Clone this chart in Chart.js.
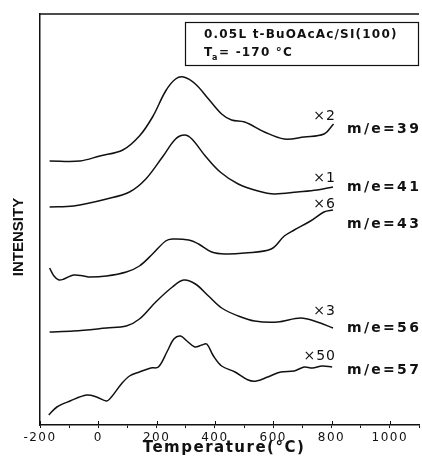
<!DOCTYPE html>
<html>
<head>
<meta charset="utf-8">
<script src="https://cdn.jsdelivr.net/npm/chart.js@4.4.1/dist/chart.umd.min.js"></script>
<style>
  html, body { margin: 0; padding: 0; background: #fff; }
  #wrap { width: 422px; height: 456px; }
</style>
</head>
<body>
<div id="wrap"><canvas id="tpdChart"></canvas></div>
<script>
// mass channels and their scale factors
const massLabels = ["m/e=39", "m/e=41", "m/e=43", "m/e=56", "m/e=57"];
const multipliers = ["×2", "×1", "×6", "×3", "×50"];

// where the labels sit, in intensity units (channel label / multiplier)
const massLabelAt = [296, 238, 201, 97, 55];
const multLabelAt = [309, 247, 221, 114, 69];

// temperature (°C) and intensity (arb. units, offset per trace)
const temp39 = [-167, -63, 5, 84, 141, 186, 231, 265, 293, 333, 378, 423, 457, 502, 570, 638, 706, 774, 807];
const int39  = [264, 264, 269, 275, 289, 308, 334, 346, 348, 341, 326, 311, 305, 303, 293, 286, 288, 291, 301];

const temp41 = [-167, -85, 28, 107, 163, 220, 265, 296, 321, 367, 418, 480, 548, 604, 683, 751, 805];
const int41  = [218, 219, 226, 233, 246, 268, 286, 290, 286, 269, 253, 241, 234, 231, 233, 235, 238];

const temp43 = [-167, -152, -135, -118, -85, -50, -29, 28, 96, 141, 186, 231, 254, 310, 344, 389, 435, 502, 593, 638, 672, 728, 774, 805];
const int43  = [157, 149, 145, 146, 150, 149, 148, 149, 153, 159, 171, 184, 186, 185, 181, 173, 171, 172, 176, 189, 195, 204, 213, 215];

const temp56 = [-167, -85, 28, 96, 141, 197, 254, 293, 333, 378, 423, 480, 536, 615, 694, 751, 805];
const int56  = [93, 94, 97, 99, 106, 123, 138, 145, 141, 129, 117, 109, 104, 103, 107, 103, 97];

const temp57 = [-170, -142, -97, -40, -6, 28, 45, 79, 107, 141, 180, 206, 237, 259, 282, 304, 331, 355, 372, 395, 423, 469, 514, 542, 581, 626, 672, 706, 734, 768, 802];
const int57  = [10, 18, 24, 30, 28, 24, 28, 41, 49, 53, 57, 58, 74, 86, 89, 84, 78, 80, 81, 69, 59, 53, 45, 44, 48, 53, 54, 58, 57, 59, 58];

const xTickLabels = [-200, 0, 200, 400, 600, 800, 1000];

const temps = [temp39, temp41, temp43, temp56, temp57];
const ints = [int39, int41, int43, int56, int57];

function toPoints(xs, ys) {
  return xs.map((t, i) => ({ x: t, y: ys[i] }));
}

const INK = "#111";

const overlayPlugin = {
  id: "overlay",
  beforeDraw(chart) {
    chart.ctx.letterSpacing = "1.5px";
  },
  afterDraw(chart) {
    const { ctx, chartArea, scales } = chart;
    const xs = scales.x;
    const ys = scales.y;

    ctx.save();
    ctx.strokeStyle = INK;
    ctx.fillStyle = INK;

    // top frame
    ctx.lineWidth = 1.5;
    ctx.beginPath();
    ctx.moveTo(chartArea.left, chartArea.top);
    ctx.lineTo(chartArea.right, chartArea.top);
    ctx.stroke();

    // inward part of the major ticks
    ctx.lineWidth = 1;
    xs.ticks.forEach(t => {
      if (!xTickLabels.includes(t.value)) return;
      const px = Math.round(xs.getPixelForValue(t.value)) + 0.5;
      ctx.beginPath();
      ctx.moveTo(px, chartArea.bottom);
      ctx.lineTo(px, chartArea.bottom - 4);
      ctx.stroke();
    });

    // channel labels
    const endX = xs.getPixelForValue(805);
    ctx.textBaseline = "middle";
    massLabels.forEach((label, i) => {
      ctx.letterSpacing = "2.3px";
      ctx.font = "bold 14px 'DejaVu Sans'";
      ctx.textAlign = "left";
      ctx.fillText(label, endX + 14, ys.getPixelForValue(massLabelAt[i]));

      ctx.letterSpacing = "1px";
      ctx.font = "14px 'DejaVu Sans'";
      ctx.textAlign = "right";
      ctx.fillText(multipliers[i], endX + 3, ys.getPixelForValue(multLabelAt[i]));
    });

    // info box
    ctx.lineWidth = 1.2;
    ctx.strokeRect(185.5, 22.5, 233, 43);
    ctx.textAlign = "left";
    ctx.letterSpacing = "1.2px";
    ctx.font = "bold 12px 'DejaVu Sans'";
    ctx.fillText("0.05L t-BuOAcAc/SI(100)", 204, 35);
    ctx.fillText("T", 204, 53);
    ctx.font = "bold 8px 'DejaVu Sans'";
    ctx.fillText("a", 212, 58);
    ctx.font = "bold 12px 'DejaVu Sans'";
    ctx.fillText("= -170 °C", 219, 53);

    // axis titles
    ctx.letterSpacing = "1.5px";
    ctx.font = "bold 15px 'DejaVu Sans'";
    ctx.textAlign = "center";
    ctx.fillText("Temperature(°C)", 224, 448);

    ctx.translate(19, 237);
    ctx.rotate(-Math.PI / 2);
    ctx.letterSpacing = "0px";
    ctx.font = "bold 15px 'Liberation Sans'";
    ctx.fillText("INTENSITY", 0, 0);

    ctx.restore();
  }
};

new Chart(document.querySelector("#tpdChart"), {
  type: "line",
  data: {
    datasets: massLabels.map((label, i) => ({
      label,
      data: toPoints(temps[i], ints[i]),
      borderColor: INK,
      borderWidth: 1.5,
      pointRadius: 0,
      fill: false,
      tension: 0.35
    }))
  },
  options: {
    responsive: true,
    maintainAspectRatio: false,
    animation: false,
    events: [],
    layout: {
      padding: { top: 14, right: 0, bottom: 0, left: 0 }
    },
    plugins: {
      legend: { display: false },
      tooltip: { enabled: false }
    },
    scales: {
      x: {
        type: "linear",
        min: -200,
        max: 1100,
        afterFit(scale) { scale.height = 31; },
        ticks: {
          stepSize: 100,
          autoSkip: false,
          maxRotation: 0,
          padding: 3,
          color: INK,
          font: { family: "'DejaVu Sans'", size: 12 },
          callback: value => xTickLabels.includes(value) ? String(value) : ""
        },
        grid: {
          drawOnChartArea: false,
          drawTicks: true,
          tickLength: 3,
          color: INK,
          lineWidth: 1
        },
        border: { display: true, color: INK, width: 1.5 }
      },
      y: {
        type: "linear",
        min: 0,
        max: 411,
        afterFit(scale) { scale.width = 40; },
        ticks: { display: false },
        grid: { display: false },
        border: { display: true, color: INK, width: 1.5 }
      }
    }
  },
  plugins: [overlayPlugin]
});
</script>
</body>
</html>
